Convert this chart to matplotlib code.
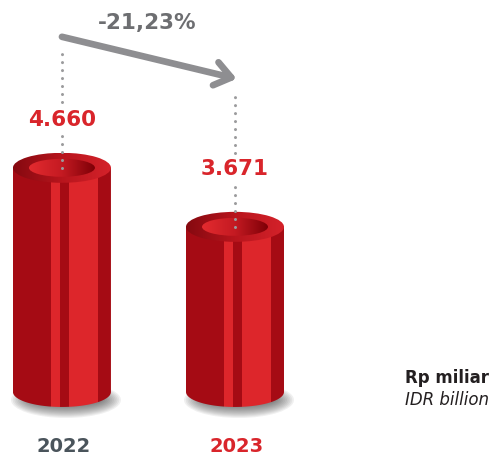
import numpy as np
import matplotlib.pyplot as plt
from matplotlib.patches import Ellipse, Polygon
from matplotlib.colors import LinearSegmentedColormap, ListedColormap

years = ['2022', '2023']
values = [4660, 3671]
labels = ['4.660', '3.671']
change = '-21,23%'
year_colors = ['#4a545b', '#d9252b']

dark = '#a50b14'
light = '#dd262b'
gray = '#9b9b9d'

fig = plt.figure(figsize=(5.02, 4.59), dpi=100)
ax = fig.add_axes([0, 0, 1, 1])
ax.set_xlim(-0.358, 2.543)
ax.set_ylim(-218, 7471)
ax.axis('off')

# size of one pixel in data units
kx = (2.543 + 0.358) / 502
ky = (7471 + 218) / 459

floor = 905
w = 98 * kx
ry = 15 * ky

side_cols = np.array([0] * 38 + [1] * 9 + [0] * 9 + [1] * 29 + [0] * 13)
side_cmap = ListedColormap([dark, light])
ring_cmap = LinearSegmentedColormap.from_list('ring', ['#850910', '#b8151d', '#d4222a'])
hole_cmap = LinearSegmentedColormap.from_list('hole', ['#e32b2f', '#c41a22', '#7e0007'])


def gradient(cmap, x0, x1, y0, y1, clip, z):
    g = np.linspace(0, 1, 200).reshape(1, -1)
    im = ax.imshow(g, cmap=cmap, extent=(x0, x1, y0, y1), aspect='auto',
                   interpolation='bilinear', zorder=z)
    im.set_clip_path(clip)


def dots(x, y0, y1):
    ax.plot([x, x], [y0, y1], color=gray, lw=2.2, linestyle=(0, (0.01, 2.6)),
            dash_capstyle='round', zorder=6)


def cylinder(cx, top):
    # soft shadow under the base
    for i in range(12):
        ax.add_patch(Ellipse((cx + 4 * kx, floor - 8 * ky),
                             (110 - i * 3.5) * kx, (36 - i * 2.2) * ky,
                             color='#3a3a3a', alpha=0.075, lw=0, zorder=1))
    # side
    t = np.linspace(np.pi, 2 * np.pi, 60)
    arc = np.column_stack([cx + w / 2 * np.cos(t), floor + ry * np.sin(t)])
    verts = np.vstack([[cx - w / 2, top], arc, [cx + w / 2, top]])
    side = Polygon(verts, closed=True, transform=ax.transData, fc='none', lw=0)
    ax.add_patch(side)
    im = ax.imshow(side_cols.reshape(1, -1), cmap=side_cmap, vmin=0, vmax=1,
                   extent=(cx - w / 2, cx + w / 2, floor - ry, top),
                   aspect='auto', interpolation='nearest', zorder=2)
    im.set_clip_path(side)
    # top ring
    outer = Ellipse((cx, top), w, 2 * ry, transform=ax.transData, fc='none', lw=0)
    ax.add_patch(outer)
    gradient(ring_cmap, cx - w / 2, cx + w / 2, top - ry, top + ry, outer, 3)
    hw, hh = 66 * kx, 18 * ky
    hole = Ellipse((cx, top), hw, hh, transform=ax.transData, fc='none', lw=0)
    ax.add_patch(hole)
    gradient(hole_cmap, cx - hw / 2, cx + hw / 2, top - hh / 2, top + hh / 2, hole, 4)


xs = np.arange(len(values))
for x, v in zip(xs, values):
    cylinder(x, v)

ax.set_xlim(-0.358, 2.543)
ax.set_ylim(-218, 7471)

# value labels and dotted guides
label_off = [48, 58]
for x, v, lab, off in zip(xs, values, labels, label_off):
    ax.annotate(lab, (x, v), xytext=(0, off), textcoords='offset pixels',
                ha='center', va='center', fontsize=15.5, fontweight='bold',
                color='#d9252b', zorder=6)
    dots(x, v, v + (off - 12) * ky)
dots(0, values[0] + 66 * ky, values[0] + 120 * ky)
dots(1, values[1] + 74 * ky, values[1] + 134 * ky)

# change arrow
ax.annotate('', xy=(1.01, values[0] + 89 * ky), xytext=(0, values[0] + 131 * ky),
            arrowprops=dict(arrowstyle='->,head_length=1.15,head_width=0.85',
                            color='#8e8e91', lw=4.8, capstyle='round',
                            joinstyle='round', shrinkA=0, shrinkB=0), zorder=7)
ax.text(0.49, values[0] + 145 * ky, change, ha='center', va='center',
        fontsize=15.5, fontweight='bold', color='#6d6e71')

# years
for x, yr, c in zip(xs, years, year_colors):
    ax.text(x + 0.01, -218 + 12 * ky, yr, ha='center', va='center', fontsize=14,
            fontweight='bold', color=c)

ax.text(2.465, -218 + 81 * ky, 'Rp miliar', ha='right', va='center', fontsize=12,
        fontweight='bold', color='#231f20')
ax.text(2.465, -218 + 59 * ky, 'IDR billion', ha='right', va='center', fontsize=12,
        fontstyle='italic', color='#231f20')

fig.savefig('out.png', dpi=100)
